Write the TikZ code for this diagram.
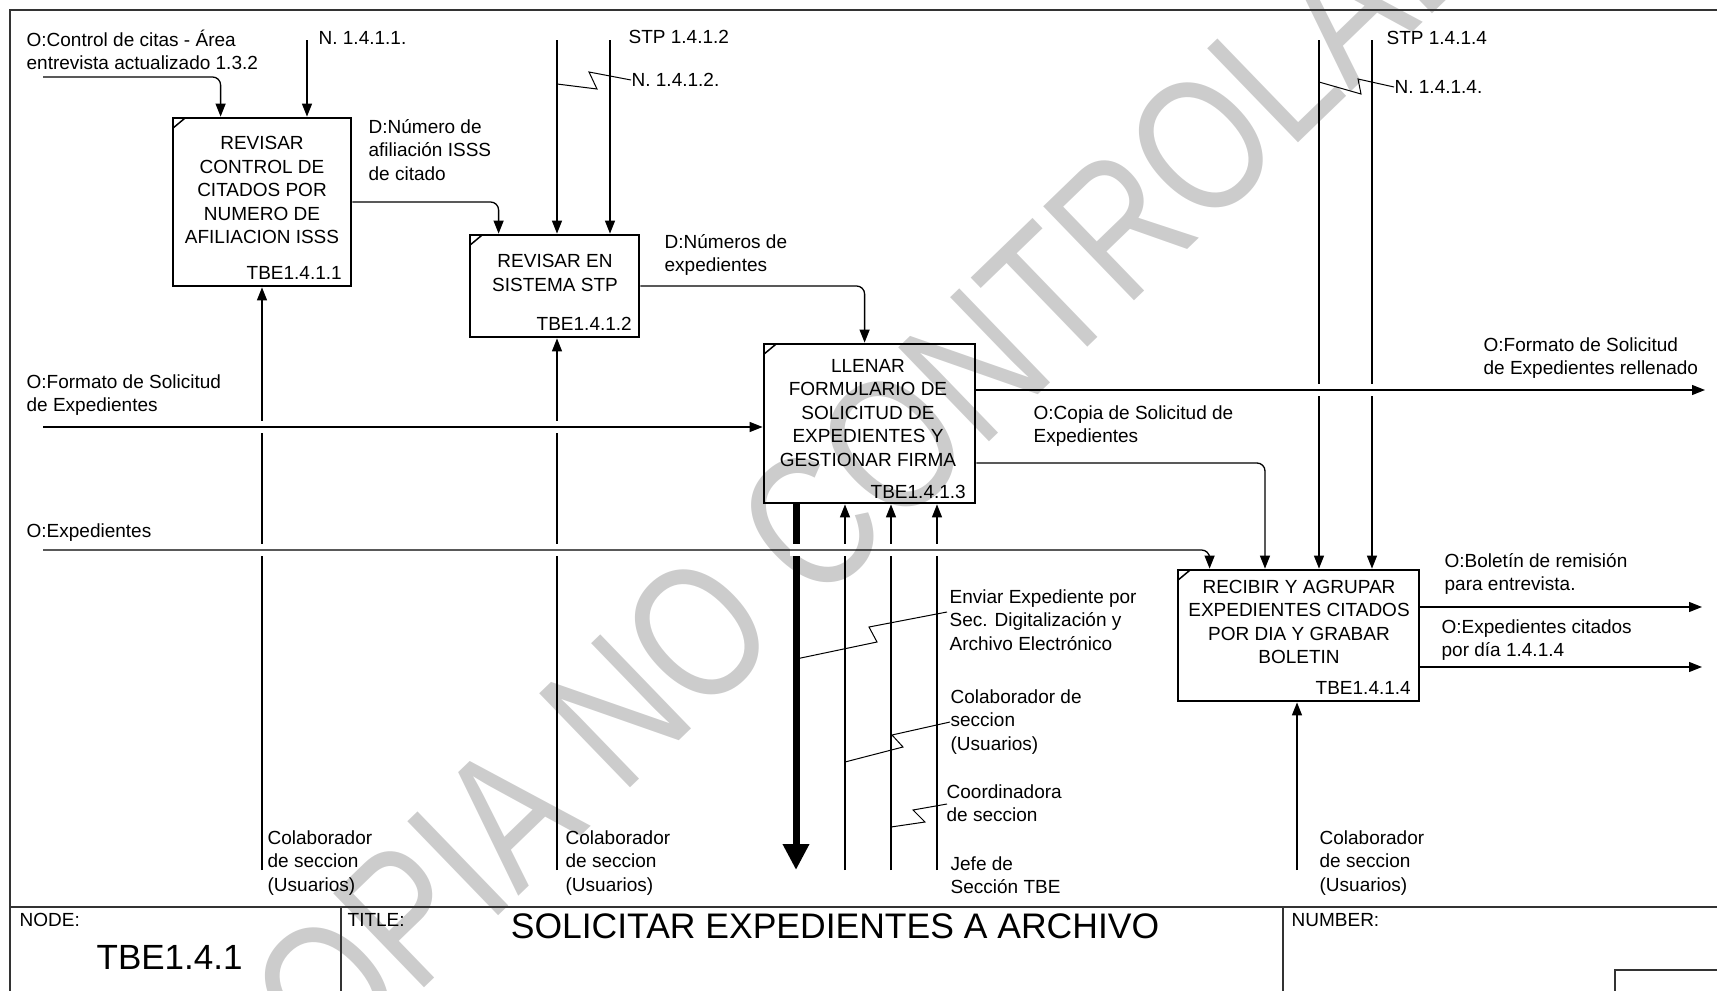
\documentclass[tikz,border=0pt]{standalone}
\usepackage{fontspec}
\setmainfont{Liberation Sans}
\usepackage{tikz}
\usetikzlibrary{
  arrows.meta,
  calc,
  positioning
}
\tikzset{>={Triangle[length=13pt,width=10pt]}}
\tikzset{
  every node/.style={font=\fontsize{19}{23.5}\selectfont, inner sep=0pt},
  act/.style={draw, line width=2.8pt},
  acttxt/.style={align=center},
  actid/.style={anchor=east},
  lbl/.style={anchor=west, align=left},
  frame/.style={draw=black!80, line width=2pt},
  callarrow/.style={line width=7pt, -{Triangle[length=26pt,width=25pt]}},
  wmark/.style={text=black!20, font=\fontsize{152}{152}\selectfont, rotate=44, yscale=1.25}
}
\newcommand{\actmark}[1]{\draw[line width=1.5pt] ($(#1.north west)+(2,11)$) -- ($(#1.north west)+(14,1)$);}
\newcommand{\gapat}[2]{\fill[white] (#1-6,#2-6) rectangle (#1+6,#2+6);}

\begin{document}
\begin{tikzpicture}[x=1pt,y=-1pt,line width=1.3pt]
		\path[use as bounding box] (0,0) rectangle (1717,991);
		\clip (0,0) rectangle (1717,991);
		\node[wmark] at (868,468) {COPIA NO CONTROLADA};
		% frame
		\draw[frame] (1717,10) -- (10,10) -- (10,991);
		\draw[frame] (10,907) -- (1717,907);
		\draw[frame] (341,907) -- (341,991);
		\draw[frame] (1283,907) -- (1283,991);
		\draw[frame] (1717,970) -| (1615,991);
		\node[anchor=west] at (19,920) {NODE:};
		\node[anchor=west] at (347,920) {TITLE:};
		\node[anchor=west] at (1291,920) {NUMBER:};
		\node[anchor=west, font=\fontsize{35}{38}\selectfont] (nod) at (96,957) {TBE1.4.1};
		\node[font=\fontsize{35.5}{40}\selectfont] (ttl) at (835,926) {SOLICITAR EXPEDIENTES A ARCHIVO};
		% activities
		\node[act, minimum width=178, minimum height=168] (A1) at (262,202) {};
		\node[act, minimum width=169, minimum height=102] (A2) at (554.5,286) {};
		\node[act, minimum width=211, minimum height=159] (A3) at (869.5,423.5) {};
		\node[act, minimum width=241, minimum height=131] (A4) at (1298.5,635.5) {};
		\actmark{A1}\actmark{A2}\actmark{A3}\actmark{A4}
		\node[acttxt] at (262,190) {REVISAR\\CONTROL DE\\CITADOS POR\\NUMERO DE\\AFILIACION ISSS};
		\node[acttxt] at (555,273) {REVISAR EN\\SISTEMA STP};
		\node[acttxt] at (868,413) {LLENAR\\FORMULARIO DE\\SOLICITUD DE\\EXPEDIENTES Y\\GESTIONAR FIRMA};
		\node[acttxt] at (1299,622) {RECIBIR Y AGRUPAR\\EXPEDIENTES CITADOS\\POR DIA Y GRABAR\\BOLETIN};
		\node[actid] at ($(A1.south east)+(-10,-14)$) {TBE1.4.1.1};
		\node[actid] at ($(A2.south east)+(-8,-15)$) {TBE1.4.1.2};
		\node[actid] at ($(A3.south east)+(-10,-12)$) {TBE1.4.1.3};
		\node[actid] at ($(A4.south east)+(-9,-14)$) {TBE1.4.1.4};
		% controls and mechanisms
		\coordinate (c11) at (43,77);
		\coordinate (c12) at (307,40);
		\coordinate (c21) at (557,40);
		\coordinate (c22) at (610,40);
		\coordinate (c41) at (1319,40);
		\coordinate (c42) at (1372,40);
		\coordinate (m1) at (262,870);
		\coordinate (m2) at (557,870);
		\coordinate (m31) at (796,870);
		\coordinate (m32) at (845,870);
		\coordinate (m33) at (891,870);
		\coordinate (m34) at (937,870);
		\coordinate (m4) at (1297,870);
		\draw[->, rounded corners=8] (c11) -| ($(A1.north west)+(49,0)$);
		\draw[->] (c12) -- (c12 |- A1.north);
		\draw[->] (c21) -- (c21 |- A2.north);
		\draw[->] (c22) -- (c22 |- A2.north);
		\draw[->] (c41) -- (c41 |- A4.north);
		\draw[->] (c42) -- (c42 |- A4.north);
		\draw[->] (m1) -- (m1 |- A1.south);
		\draw[->] (m2) -- (m2 |- A2.south);
		\draw[callarrow] (m31 |- A3.south) -- (m31);
		\draw[->] (m32) -- (m32 |- A3.south);
		\draw[->] (m33) -- (m33 |- A3.south);
		\draw[->] (m34) -- (m34 |- A3.south);
		\draw[->] (m4) -- (m4 |- A4.south);
		\gapat{262}{427}\gapat{557}{427}\gapat{1319}{390}\gapat{1372}{390}
		\gapat{262}{550}\gapat{557}{550}\gapat{796}{550}\gapat{845}{550}\gapat{891}{550}\gapat{937}{550}
		% inputs and outputs
		\coordinate (i3) at (43,427);
		\coordinate (i4) at (43,550);
		\coordinate (o31) at (1705,390);
		\coordinate (o32) at (1265,463);
		\coordinate (o41) at (1702,607);
		\coordinate (o42) at (1702,667);
		\draw[->, rounded corners=8] (A1.east) -| ($(A2.north west)+(30,0)$);
		\draw[->, rounded corners=8] (A2.east) -| ($(A3.north west)+(102,0)$);
		\draw[->] (i3) -- (i3 -| A3.west);
		\draw[->] (o31 -| A3.east) -- (o31);
		\draw[->, rounded corners=8] (o32 -| A3.east) -| (o32 |- A4.north);
		\draw[->, rounded corners=8] (i4) -| ($(A4.north west)+(33,0)$);
		\draw[->] (o41 -| A4.east) -- (o41);
		\draw[->] (o42 -| A4.east) -- (o42);
		% labels
		\node[lbl] at (26,50) {O:Control de citas - Área\\entrevista actualizado 1.3.2};
		\node[lbl] at (318,38) {N. 1.4.1.1.};
		\node[lbl] at (368,150) {D:Número de\\afiliación ISSS\\de citado};
		\node[lbl] at (628,37) {STP 1.4.1.2};
		\node[lbl] (lN2) at (631,80) {N. 1.4.1.2.};
		\node[lbl] at (664,255) {D:Números de\\expedientes};
		\node[lbl] at (26,395) {O:Formato de Solicitud\\de Expedientes};
		\node[lbl] at (26,533) {O:Expedientes};
		\node[lbl] at (1386,38) {STP 1.4.1.4};
		\node[lbl] (lN4) at (1394,87) {N. 1.4.1.4.};
		\node[lbl] at (1483,358) {O:Formato de Solicitud\\de Expedientes rellenado};
		\node[lbl] at (1033,426) {O:Copia de Solicitud de\\Expedientes};
		\node[lbl] at (1444,574) {O:Boletín de remisión\\para entrevista.};
		\node[lbl] at (1441,640) {O:Expedientes citados\\por día 1.4.1.4};
		\node[lbl] (lEnv) at (949,620) {Enviar Expediente por\\Sec. Digitalización y\\Archivo Electrónico};
		\node[lbl] (lCol) at (950,722) {Colaborador de\\seccion\\(Usuarios)};
		\node[lbl] (lCoo) at (946,803) {Coordinadora\\de seccion};
		\node[lbl] at (950,875) {Jefe de\\Sección TBE};
		\node[lbl] at (267,863) {Colaborador\\de seccion\\(Usuarios)};
		\node[lbl] at (565,863) {Colaborador\\de seccion\\(Usuarios)};
		\node[lbl] at (1319,863) {Colaborador\\de seccion\\(Usuarios)};
		% squiggles
		\draw[line width=1pt] (c21 |- 0,84) -- (597,89) -- (589,72) -- (lN2.west);
		\draw[line width=1pt] (c41 |- 0,82) -- (1361,94) -- (1358,79) -- (lN4.west);
		\draw[line width=1pt] (m31 |- 0,659) -- (877,642) -- (869,627) -- (947,612);
		\draw[line width=1pt] (m32 |- 0,762) -- (903,747) -- (892,735) -- (950,722);
		\draw[line width=1pt] (m33 |- 0,827) -- (925,822) -- (913,810) -- (947,804);
\end{tikzpicture}
\end{document}
